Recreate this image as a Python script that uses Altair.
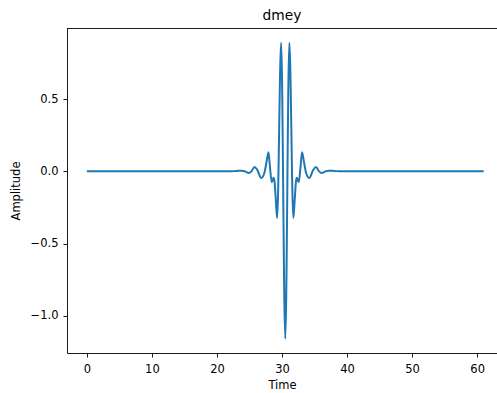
import altair as alt
import pandas as pd

# Discrete Meyer (dmey) wavelet function, sampled at its key points
time = [0.0, 10.0, 20.0, 22.0, 23.0, 23.8, 24.3, 24.9, 25.3, 25.77, 26.2, 26.8,
        27.3, 27.6, 27.92, 28.15, 28.43, 28.7, 28.85, 29.05, 29.25, 29.87,
        30.5, 31.13, 31.75, 31.95, 32.15, 32.3, 32.57, 32.85, 33.08, 33.4,
        33.7, 34.2, 34.8, 35.23, 35.7, 36.1, 36.7, 37.2, 38.0, 39.0, 50.0, 61.0]
amplitude = [0.0, 0.0, 0.0, 0.0, 0.003, 0.005, 0.0, -0.011, 0.0, 0.03, 0.01, -0.046,
             -0.01, 0.06, 0.132, 0.03, -0.076, -0.045, -0.07, -0.2, -0.323, 0.89,
             -1.16, 0.89, -0.323, -0.2, -0.07, -0.045, -0.076, 0.03, 0.132, 0.06,
             -0.01, -0.046, 0.01, 0.03, 0.0, -0.011, 0.0, 0.005, 0.003, 0.0, 0.0, 0.0]

x_ticks = [0, 10, 20, 30, 40, 50, 60]
y_ticks = [-1.0, -0.5, 0.0, 0.5]

df = pd.DataFrame({"Time": time, "Amplitude": amplitude})

W, H = 430, 325
FONT = "DejaVu Sans"
FRAME = "#1a1a1a"

line = alt.Chart(df).mark_line(
    color="#1f77b4", strokeWidth=2, interpolate="monotone", clip=True
).encode(
    x=alt.X("Time:Q",
            scale=alt.Scale(domain=[-3.05, 63.05], nice=False, zero=False),
            axis=alt.Axis(values=x_ticks, format="d", title="Time")),
    y=alt.Y("Amplitude:Q",
            scale=alt.Scale(domain=[-1.258, 0.993], nice=False, zero=False),
            axis=alt.Axis(values=y_ticks, format=".1f", title="Amplitude")),
)

# top edge of the frame
top_edge = alt.Chart(df).mark_rule(color=FRAME, strokeWidth=1).encode(
    x=alt.value(0), x2=alt.value(W), y=alt.value(0.5)
)

chart = alt.layer(line, top_edge).properties(
    width=W, height=H,
    title=alt.TitleParams("dmey", fontSize=13.8, font=FONT, fontWeight="normal",
                          anchor="middle", offset=5, color="black"),
    autosize=alt.AutoSizeParams(type="none"),
    padding={"left": 67, "top": 28, "right": 0, "bottom": 40},
).configure_view(
    stroke=None
).configure_axis(
    grid=False,
    domainColor=FRAME, domainWidth=1,
    tickColor=FRAME, tickWidth=1, tickSize=4,
    labelFont=FONT, labelFontSize=11.5, labelColor="black",
    titleFont=FONT, titleFontSize=11.5, titleFontWeight="normal", titleColor="black",
).configure_axisX(
    labelPadding=6, titlePadding=5
).configure_axisY(
    labelPadding=5, titlePadding=9
)

chart.save("out.html", embed_options={"renderer": "svg", "actions": False})
